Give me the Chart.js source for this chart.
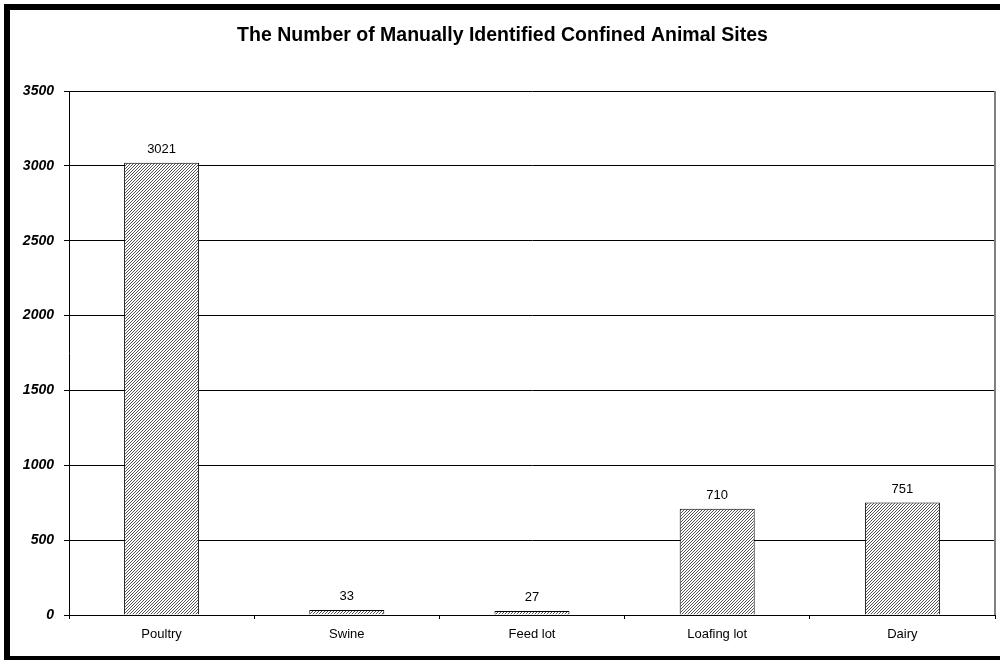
<!DOCTYPE html>
<html>
<head>
<meta charset="utf-8">
<script src="https://cdn.jsdelivr.net/npm/chart.js@4/dist/chart.umd.min.js"></script>
<style>
  html, body { margin: 0; padding: 0; background: #fff; }
  #wrap { width: 1000px; height: 660px; position: relative; }
</style>
</head>
<body>
<div id="wrap"><canvas id="sitesChart"></canvas></div>
<script>
// data
const categories = ['Poultry', 'Swine', 'Feed lot', 'Loafing lot', 'Dairy'];
const siteCounts = [3021, 33, 27, 710, 751];
const yTicks = [0, 500, 1000, 1500, 2000, 2500, 3000, 3500];

const fontFamily = '"Liberation Sans", Arial, sans-serif';

// fine diagonal hatch like the old spreadsheet fill
function makeHatch() {
    const size = 3;
    const c = document.createElement('canvas');
    c.width = size;
    c.height = size;
    const g = c.getContext('2d');
    g.fillStyle = '#ffffff';
    g.fillRect(0, 0, size, size);
    g.fillStyle = '#555555';
    for (let i = 0; i < size; i++) {
        g.fillRect(i, size - 1 - i, 1, 1);
    }
    return g.createPattern(c, 'repeat');
}

// outer frame + gray right edge of the plot area
const framePlugin = {
    id: 'frame',
    beforeDraw(chart) {
        const ctx = chart.ctx;
        ctx.save();
        ctx.fillStyle = '#fff';
        ctx.fillRect(0, 0, chart.width, chart.height);
        ctx.restore();
    },
    afterDraw(chart) {
        const ctx = chart.ctx;
        const a = chart.chartArea;
        ctx.save();
        ctx.strokeStyle = '#808080';
        ctx.lineWidth = 2;
        ctx.beginPath();
        ctx.moveTo(a.right, a.top);
        ctx.lineTo(a.right, a.bottom);
        ctx.stroke();
        ctx.fillStyle = '#000';
        ctx.fillRect(4, 4, 996, 6);
        ctx.fillRect(4, 4, 6, 656);
        ctx.fillRect(4, 656, 996, 4);
        ctx.restore();
    }
};

// value labels above each bar
const valueLabels = {
    id: 'valueLabels',
    afterDatasetsDraw(chart) {
        const ctx = chart.ctx;
        const meta = chart.getDatasetMeta(0);
        ctx.save();
        ctx.font = '13px ' + fontFamily;
        ctx.fillStyle = '#000';
        ctx.textAlign = 'center';
        ctx.textBaseline = 'alphabetic';
        meta.data.forEach((bar, i) => {
            ctx.fillText(String(siteCounts[i]), bar.x, bar.y - 10);
        });
        ctx.restore();
    }
};

const ctx = document.getElementById('sitesChart').getContext('2d');

new Chart(ctx, {
    type: 'bar',
    data: {
        labels: categories,
        datasets: [{
            data: siteCounts,
            backgroundColor: makeHatch(),
            borderColor: '#000',
            borderWidth: 1,
            barPercentage: 0.405,
            categoryPercentage: 1
        }]
    },
    options: {
        responsive: true,
        maintainAspectRatio: false,
        animation: false,
        layout: { padding: { left: 10, right: 5, top: 10, bottom: 0 } },
        plugins: {
            legend: { display: false },
            tooltip: { enabled: false },
            title: {
                display: true,
                text: 'The Number of Manually Identified Confined Animal Sites',
                color: '#000',
                font: { family: fontFamily, size: 19.5, weight: 'bold' },
                padding: { top: 14, bottom: 43.6 }
            }
        },
        scales: {
            x: {
                grid: {
                    drawOnChartArea: false,
                    drawTicks: true,
                    tickLength: 4,
                    color: '#000'
                },
                border: { color: '#000', width: 1 },
                ticks: {
                    color: '#000',
                    padding: 8,
                    font: { family: fontFamily, size: 13 }
                },
                afterFit(scale) { scale.height = 45; }
            },
            y: {
                min: 0,
                max: 3500,
                afterBuildTicks(scale) {
                    scale.ticks = yTicks.map(v => ({ value: v }));
                },
                grid: {
                    color: '#000',
                    lineWidth: 1,
                    tickLength: 5
                },
                border: { color: '#000', width: 1 },
                ticks: {
                    color: '#000',
                    padding: 10,
                    callback: v => String(v),
                    font: { family: fontFamily, size: 14, weight: 'bold', style: 'italic' }
                },
                afterFit(scale) { scale.width = 59; }
            }
        }
    },
    plugins: [framePlugin, valueLabels]
});
</script>
</body>
</html>
